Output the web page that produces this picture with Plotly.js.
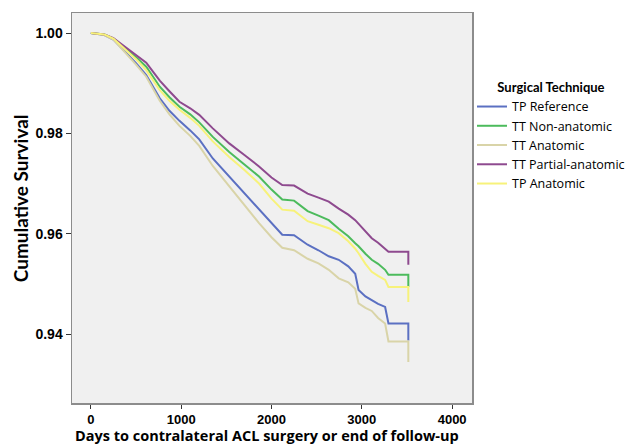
<!DOCTYPE html>
<html>
<head>
<meta charset="utf-8">
<script src="https://cdn.plot.ly/plotly-3.0.1.min.js"></script>
<style>html,body{margin:0;padding:0;background:#fff;}#chart{width:630px;height:444px;}</style>
</head>
<body>
<div id="chart"></div>
<script>
// Days (follow-up time) at which survival values were read
const days = [0, 150, 250, 400, 500, 613, 700, 763, 870, 981, 1100, 1200, 1350, 1532, 1700, 1862, 2000, 2119, 2250, 2400, 2520, 2634, 2744, 2850, 2927, 2964, 3040, 3110, 3180, 3258, 3295, 3400, 3515, 3515];

const seriesNames = ["TP Reference", "TT Non-anatomic", "TT Anatomic", "TT Partial-anatomic", "TP Anatomic"];

const tpReference = [1.0, .9996, .9987, .9960, .9940, .9916, .9890, .9870, .9845, .9825, .9806, .9788, .9750, .9714, .9680, .9647, .9620, .9598, .9597, .9578, .9567, .9555, .9548, .9535, .9520, .9488, .9475, .9468, .9460, .9454, .9421, .9421, .9421, .9387];
const ttNonAnatomic = [1.0, .9997, .9989, .9967, .9952, .9933, .9910, .9893, .9872, .9853, .9838, .9822, .9793, .9763, .9738, .9714, .9688, .9668, .9666, .9645, .9636, .9627, .9610, .9595, .9581, .9575, .9560, .9548, .9540, .9528, .9518, .9518, .9518, .9494];
const ttAnatomic = [1.0, .9996, .9987, .9958, .9937, .9913, .9885, .9865, .9838, .9815, .9795, .9775, .9735, .9694, .9658, .9621, .9593, .9572, .9567, .9550, .9541, .9528, .9511, .9503, .9490, .9461, .9452, .9446, .9432, .9421, .9385, .9385, .9385, .9344];
const ttPartialAnatomic = [1.0, .9997, .9990, .9970, .9957, .9941, .9920, .9905, .9884, .9863, .9850, .9837, .9810, .9780, .9757, .9734, .9712, .9697, .9696, .9680, .9672, .9664, .9650, .9638, .9627, .9620, .9605, .9591, .9582, .9570, .9564, .9564, .9564, .9538];
const tpAnatomic = [1.0, .9997, .9989, .9965, .9948, .9926, .9903, .9886, .9865, .9847, .9831, .9815, .9784, .9753, .9727, .9700, .9670, .9648, .9646, .9625, .9618, .9611, .9601, .9585, .9570, .9561, .9540, .9524, .9516, .9508, .9494, .9494, .9494, .9464];

const xTicks = [0, 1000, 2000, 3000, 4000];
const yTicks = [0.94, 0.96, 0.98, 1.00];

const xTitle = "Days to contralateral ACL surgery or end of follow-up";
const yTitle = "Cumulative Survival";

const seriesValues = [tpReference, ttNonAnatomic, ttAnatomic, ttPartialAnatomic, tpAnatomic];
const colors = ["#5b70c2", "#4cbb5c", "#d9d4a8", "#8e4a8f", "#f7f27a"];

const traces = seriesNames.map((name, i) => ({
  type: "scatter",
  mode: "lines",
  name: name,
  x: days,
  y: seriesValues[i],
  line: {color: colors[i], width: 2, shape: "linear"}
}));

const plotBottom = 403;

const layout = {
  width: 630,
  height: 444,
  margin: {l: 72, r: 156, t: 13, b: 444 - plotBottom},
  paper_bgcolor: "#ffffff",
  plot_bgcolor: "#f0f0f0",
  font: {family: "Liberation Sans, Arial, sans-serif", color: "#000"},
  xaxis: {
    range: [-209, 4220],
    tickvals: xTicks,
    ticktext: xTicks.map(String),
    ticks: "outside",
    ticklen: 4,
    tickcolor: "#333",
    tickfont: {family: "Liberation Sans, Arial, sans-serif", size: 13, weight: "bold", color: "#000"},
    showgrid: false,
    zeroline: false,
    showline: true,
    mirror: true,
    linecolor: "#8c8c8c",
    linewidth: 1.5
  },
  yaxis: {
    range: [0.92625, 1.004],
    tickvals: yTicks,
    ticktext: yTicks.map(v => v.toFixed(2)),
    ticks: "outside",
    ticklen: 5,
    tickcolor: "#333",
    tickfont: {family: "Liberation Sans, Arial, sans-serif", size: 14, weight: "bold", color: "#000"},
    showgrid: false,
    zeroline: false,
    showline: true,
    mirror: true,
    linecolor: "#8c8c8c",
    linewidth: 1.5
  },
  annotations: [
    {text: xTitle, xref: "paper", yref: "paper", x: (267.5 - 72) / 402, y: (plotBottom - 436) / (plotBottom - 13),
     xanchor: "center", yanchor: "middle", showarrow: false,
     font: {family: "Open Sans, sans-serif", size: 14.5, weight: "bold", color: "#000"}},
    {text: yTitle, xref: "paper", yref: "paper", x: (20 - 72) / 402, y: (plotBottom - 198) / (plotBottom - 13),
     xanchor: "center", yanchor: "middle", showarrow: false, textangle: -90,
     font: {family: "Lato, sans-serif", size: 19, weight: "bold", color: "#000"}}
  ],
  showlegend: true,
  legend: {
    x: 472 / 630,
    xref: "container",
    xanchor: "left",
    y: 1 - 75 / 444,
    yref: "container",
    yanchor: "top",
    bgcolor: "rgba(0,0,0,0)",
    font: {family: "Open Sans, sans-serif", size: 12.5, color: "#000"},
    tracegroupgap: 0,
    title: {text: "Surgical Technique", side: "top center", font: {family: "Lato, sans-serif", size: 13, weight: "bold"}}
  }
};

Plotly.newPlot("chart", traces, layout, {displayModeBar: false, staticPlot: true});
</script>
</body>
</html>
